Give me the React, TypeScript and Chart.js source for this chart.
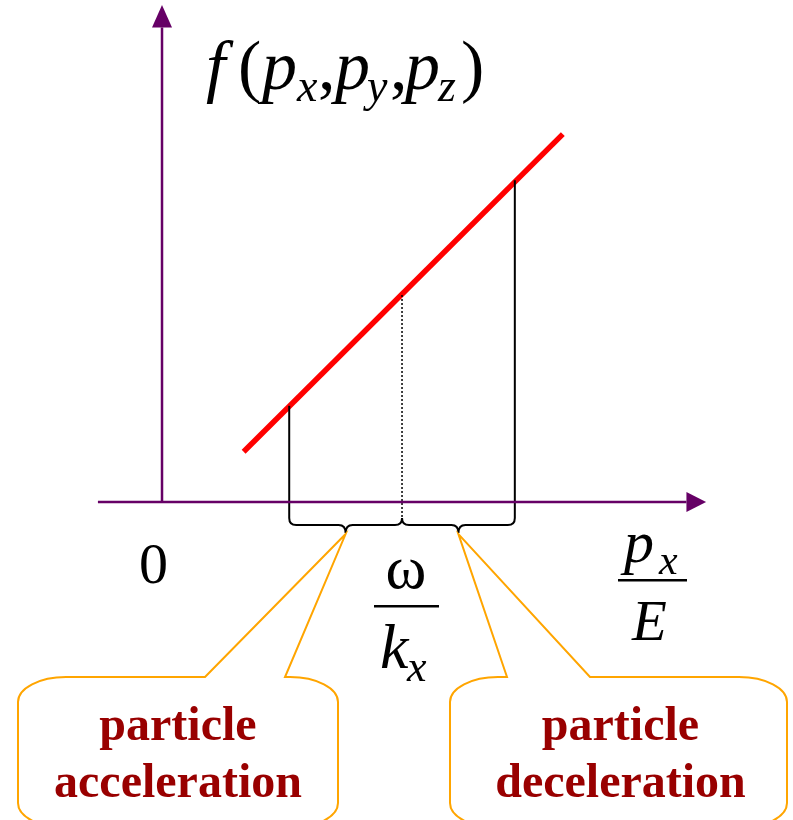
import React, { useEffect, useRef } from "react";
import { Chart, registerables } from "chart.js";

Chart.register(...registerables);

// ---- data (in units where omega/k_x = 1 on x, and f at omega/k_x = 1 on y) ----
const X_RANGE = [-0.675, 2.629];
const Y_RANGE = [-1.522, 2.402];

const distX = [0.34, 1.67];
const distY = [0.24, 1.76];

const markX = [0.53, 1.0, 1.47];
const markTopY = [0.46, 1.0, 1.54];
const markBottomY = [-0.077, -0.072, -0.077];

const hAxisX = [-0.267, 2.185];
const hAxisTipX = 2.267;
const vAxisY = [0, 2.27];
const vAxisTipY = 2.378;

const calloutLines = [
  ["particle", "acceleration"],
  ["particle", "deceleration"],
];

const AXIS_COLOR = "#660066";
const ORANGE = "#FFA500";
const TEXT_RED = "#990000";
const SERIF = '"Liberation Serif", "Times New Roman", serif';

const overlayPlugin = {
  id: "overlay",
  afterDatasetsDraw(chart: any) {
    const ctx: CanvasRenderingContext2D = chart.ctx;
    const xs = chart.scales.x;
    const ys = chart.scales.y;
    const px = (v: number) => xs.getPixelForValue(v);
    const py = (v: number) => ys.getPixelForValue(v);

    ctx.save();
    // arrowheads
    ctx.fillStyle = AXIS_COLOR;
    const hx = px(hAxisX[1]);
    const hTip = px(hAxisTipX);
    const hy = py(0);
    ctx.beginPath();
    ctx.moveTo(hx, hy - 10);
    ctx.lineTo(hTip, hy);
    ctx.lineTo(hx, hy + 10);
    ctx.closePath();
    ctx.fill();
    const vx = px(0);
    const vy = py(vAxisY[1]);
    const vTip = py(vAxisTipY);
    ctx.beginPath();
    ctx.moveTo(vx - 10, vy);
    ctx.lineTo(vx, vTip);
    ctx.lineTo(vx + 10, vy);
    ctx.closePath();
    ctx.fill();

    // braces
    const yTop = py(markBottomY[0]);
    const yMid = yTop + 7;
    const yTip = yTop + 15;
    const r = 7;
    const tips: number[] = [];
    ctx.strokeStyle = "#000";
    ctx.lineWidth = 2;
    for (let i = 0; i < 2; i++) {
      const x1 = px(markX[i]);
      const x2 = px(markX[i + 1]);
      const xm = (x1 + x2) / 2;
      tips.push(xm);
      ctx.beginPath();
      ctx.moveTo(x1, yTop);
      ctx.quadraticCurveTo(x1, yMid, x1 + r, yMid);
      ctx.lineTo(xm - r, yMid);
      ctx.quadraticCurveTo(xm, yMid, xm, yTip);
      ctx.quadraticCurveTo(xm, yMid, xm + r, yMid);
      ctx.lineTo(x2 - r, yMid);
      ctx.quadraticCurveTo(x2, yMid, x2, yTop);
      ctx.stroke();
    }

    // callouts
    const boxes = [
      { l: 18, r: 338, b1: 205, b2: 285 },
      { l: 450, r: 787, b1: 507, b2: 590 },
    ];
    const top = 677;
    const bottom = 828;
    const rx = 48;
    const ry = 25;
    ctx.strokeStyle = ORANGE;
    ctx.lineWidth = 2;
    boxes.forEach((b, i) => {
      ctx.beginPath();
      ctx.moveTo(b.b1, top);
      ctx.lineTo(tips[i], yTip + 1);
      ctx.lineTo(b.b2, top);
      ctx.lineTo(Math.max(b.b2, b.r - rx), top);
      ctx.ellipse(b.r - rx, top + ry, rx, ry, 0, -Math.PI / 2, 0);
      ctx.lineTo(b.r, bottom - ry);
      ctx.ellipse(b.r - rx, bottom - ry, rx, ry, 0, 0, Math.PI / 2);
      ctx.lineTo(b.l + rx, bottom);
      ctx.ellipse(b.l + rx, bottom - ry, rx, ry, 0, Math.PI / 2, Math.PI);
      ctx.lineTo(b.l, top + ry);
      ctx.ellipse(b.l + rx, top + ry, rx, ry, 0, Math.PI, Math.PI * 1.5);
      ctx.closePath();
      ctx.stroke();

      ctx.fillStyle = TEXT_RED;
      ctx.font = `bold 48px ${SERIF}`;
      ctx.textAlign = "center";
      ctx.textBaseline = "alphabetic";
      const cx = (b.l + b.r) / 2 + (i === 1 ? 2 : 0);
      ctx.fillText(calloutLines[i][0], cx, 740);
      ctx.fillText(calloutLines[i][1], cx, 797);
    });

    // math labels
    ctx.fillStyle = "#000";
    ctx.textAlign = "left";
    ctx.textBaseline = "alphabetic";
    const it = (s: number) => `italic ${s}px ${SERIF}`;
    const rg = (s: number) => `${s}px ${SERIF}`;
    const put = (t: string, x: number, y: number, f: string) => {
      ctx.font = f;
      ctx.fillText(t, x, y);
    };
    // f(p_x, p_y, p_z)
    const mb = 89;
    const sb = 101;
    put("f", 206, mb, it(70));
    put("(", 238, mb, rg(70));
    put("p", 262, mb, it(70));
    put("x", 297, sb, it(46));
    put(",", 318, mb, rg(70));
    put("p", 335, mb, it(70));
    put("y", 367, sb, it(46));
    put(",", 390, mb, rg(70));
    put("p", 405, mb, it(70));
    put("z", 438, sb, it(46));
    put(")", 461, mb, rg(70));

    // 0
    ctx.textAlign = "center";
    put("0", px(0) - 8.5, 583, rg(58));

    // omega / k_x
    put("ω", px(markX[1]) + 4, 588, rg(62));
    ctx.fillRect(374, 605, 65, 2.5);
    ctx.textAlign = "left";
    put("k", 380, 668, it(64));
    put("x", 407, 681, it(44));

    // p_x / E
    put("p", 624, 562, it(60));
    put("x", 659, 574, it(42));
    ctx.fillRect(618, 579, 69, 2.5);
    put("E", 632, 640, it(57));

    ctx.restore();
  },
};

export default function App() {
  const ref = useRef<HTMLCanvasElement | null>(null);
  useEffect(() => {
    if (!ref.current) return;
    const line = (xs: number[], ys: number[]) => xs.map((x, i) => ({ x, y: ys[i] }));
    const chart = new Chart(ref.current, {
      type: "scatter",
      data: {
        datasets: [
          {
            data: line(hAxisX, [0, 0]),
            showLine: true,
            borderColor: AXIS_COLOR,
            borderWidth: 2.5,
            pointRadius: 0,
          },
          {
            data: line([0, 0], vAxisY),
            showLine: true,
            borderColor: AXIS_COLOR,
            borderWidth: 2.5,
            pointRadius: 0,
          },
          {
            data: line([markX[0], markX[0]], [markBottomY[0], markTopY[0]]),
            showLine: true,
            borderColor: "#000",
            borderWidth: 2,
            pointRadius: 0,
          },
          {
            data: line([markX[1], markX[1]], [markBottomY[1], markTopY[1]]),
            showLine: true,
            borderColor: "#000",
            borderWidth: 1.5,
            borderDash: [2, 2],
            pointRadius: 0,
          },
          {
            data: line([markX[2], markX[2]], [markBottomY[2], markTopY[2]]),
            showLine: true,
            borderColor: "#000",
            borderWidth: 2,
            pointRadius: 0,
          },
          {
            data: line(distX, distY),
            showLine: true,
            borderColor: "#FF0000",
            borderWidth: 5.5,
            pointRadius: 0,
          },
        ],
      },
      options: {
        animation: false,
        responsive: false,
        devicePixelRatio: 1,
        layout: { padding: 0 },
        plugins: { legend: { display: false }, tooltip: { enabled: false } },
        events: [],
        scales: {
          x: { type: "linear", min: X_RANGE[0], max: X_RANGE[1], display: false },
          y: { type: "linear", min: Y_RANGE[0], max: Y_RANGE[1], display: false },
        },
      },
      plugins: [overlayPlugin],
    });
    return () => chart.destroy();
  }, []);
  return (
    <div style={{ position: "absolute", left: 0, top: 0, width: 793, height: 820, background: "#fff" }}>
      <canvas ref={ref} width={793} height={820} style={{ display: "block" }} />
    </div>
  );
}
